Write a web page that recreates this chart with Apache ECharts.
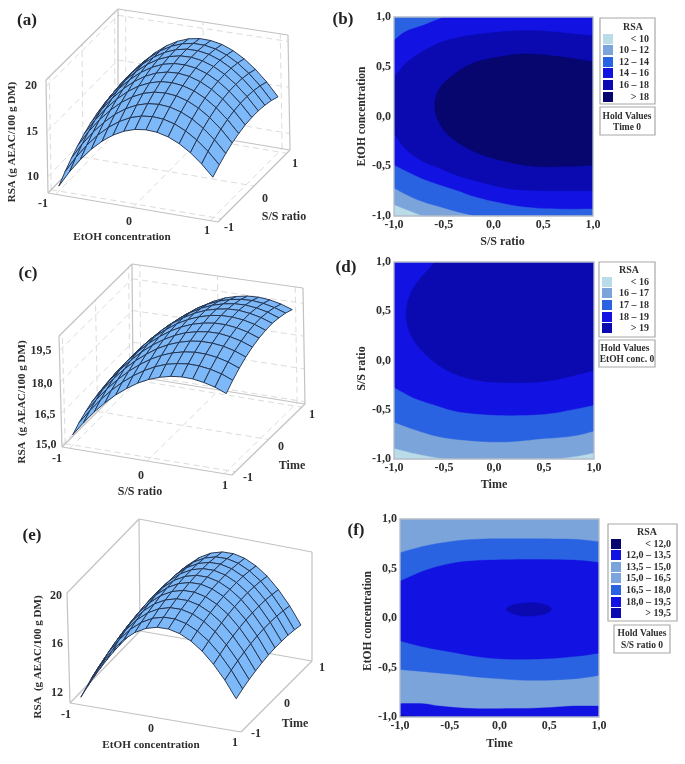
<!DOCTYPE html>
<html><head><meta charset="utf-8">
<style>html,body{margin:0;padding:0;background:#fff}#c{width:685px;height:764px}</style>
<script src="https://cdn.jsdelivr.net/npm/echarts@6/dist/echarts.min.js"></script>
</head><body><div id="c"></div>
<script>
// ---------- data: surface grids ----------
const surfX = [-1,-0.857,-0.714,-0.571,-0.429,-0.286,-0.143,0,0.143,0.286,0.429,0.571,0.714,0.857,1];
const surfY = [-1,-0.8,-0.6,-0.4,-0.2,0,0.2,0.4,0.6,0.8,1];
// (a) RSA by EtOH concentration (columns) and S/S ratio (rows)
const surfaceA = [
[8.75,10.55,12.10,13.42,14.50,15.36,15.98,16.37,16.52,16.44,16.13,15.58,14.80,13.78,12.54],
[9.62,11.40,12.94,14.24,15.30,16.14,16.75,17.12,17.25,17.16,16.83,16.26,15.46,14.43,13.17],
[10.39,12.15,13.67,14.95,16.01,16.83,17.42,17.77,17.88,17.77,17.42,16.85,16.03,14.98,13.70],
[11.06,12.80,14.31,15.57,16.61,17.41,17.99,18.32,18.41,18.29,17.92,17.33,16.49,15.43,14.13],
[11.62,13.35,14.83,16.08,17.10,17.89,18.44,18.76,18.84,18.69,18.31,17.70,16.85,15.76,14.45],
[12.08,13.79,15.26,16.49,17.49,18.26,18.80,19.10,19.16,19.00,18.60,17.97,17.10,16.00,14.67],
[12.43,14.12,15.58,16.79,17.77,18.52,19.05,19.33,19.37,19.20,18.78,18.13,17.24,16.13,14.78],
[12.68,14.36,15.79,16.99,17.95,18.69,19.19,19.46,19.49,19.29,18.86,18.19,17.29,16.15,14.79],
[12.83,14.49,15.91,17.09,18.03,18.75,19.24,19.49,19.50,19.29,18.84,18.15,17.23,16.08,14.70],
[12.87,14.51,15.91,17.07,18.01,18.71,19.18,19.41,19.40,19.17,18.70,18.01,17.07,15.90,14.50],
[12.81,14.43,15.82,16.96,17.88,18.56,19.02,19.23,19.20,18.96,18.47,17.76,16.80,15.62,14.20]];
// (c) RSA by S/S ratio (columns) and Time (rows)
const surfaceC = [
[15.39,16.04,16.64,17.16,17.61,17.99,18.32,18.57,18.75,18.87,18.92,18.90,18.81,18.67,18.45],
[15.66,16.31,16.91,17.44,17.89,18.28,18.60,18.86,19.05,19.16,19.22,19.20,19.12,18.98,18.76],
[15.86,16.52,17.12,17.65,18.11,18.50,18.83,19.09,19.28,19.40,19.46,19.45,19.37,19.23,19.02],
[16.03,16.69,17.29,17.83,18.29,18.68,19.02,19.28,19.47,19.60,19.66,19.65,19.58,19.44,19.23],
[16.13,16.80,17.41,17.94,18.41,18.81,19.14,19.41,19.61,19.73,19.80,19.80,19.72,19.59,19.39],
[16.20,16.87,17.48,18.02,18.49,18.89,19.23,19.50,19.70,19.83,19.90,19.90,19.83,19.70,19.50],
[16.22,16.89,17.50,18.05,18.52,18.92,19.27,19.54,19.74,19.88,19.95,19.95,19.89,19.76,19.56],
[16.18,16.86,17.48,18.02,18.50,18.91,19.25,19.53,19.74,19.87,19.95,19.96,19.89,19.77,19.58],
[16.09,16.77,17.39,17.94,18.42,18.83,19.18,19.46,19.67,19.81,19.89,19.90,19.84,19.72,19.53],
[15.95,16.64,17.26,17.81,18.30,18.71,19.07,19.35,19.56,19.71,19.79,19.81,19.75,19.63,19.45],
[15.77,16.46,17.08,17.64,18.13,18.55,18.90,19.19,19.41,19.55,19.64,19.66,19.61,19.49,19.31]];
// (e) RSA by EtOH concentration (columns) and Time (rows)
const surfaceE = [
[11.52,13.24,14.72,15.95,16.94,17.70,18.21,18.48,18.51,18.30,17.85,17.17,16.23,15.06,13.64],
[11.80,13.52,15.00,16.23,17.22,17.98,18.49,18.76,18.79,18.58,18.13,17.45,16.51,15.34,13.92],
[12.04,13.76,15.24,16.47,17.46,18.22,18.73,19.00,19.03,18.82,18.37,17.69,16.75,15.58,14.16],
[12.22,13.94,15.42,16.65,17.64,18.40,18.91,19.18,19.21,19.00,18.55,17.87,16.93,15.76,14.34],
[12.36,14.08,15.56,16.79,17.78,18.54,19.05,19.32,19.35,19.14,18.69,18.01,17.07,15.90,14.48],
[12.46,14.18,15.66,16.89,17.88,18.64,19.15,19.42,19.45,19.24,18.79,18.11,17.17,16.00,14.58],
[12.50,14.22,15.70,16.93,17.92,18.68,19.19,19.46,19.49,19.28,18.83,18.15,17.21,16.04,14.62],
[12.50,14.22,15.70,16.93,17.92,18.68,19.19,19.46,19.49,19.28,18.83,18.15,17.21,16.04,14.62],
[12.46,14.18,15.66,16.89,17.88,18.64,19.15,19.42,19.45,19.24,18.79,18.11,17.17,16.00,14.58],
[12.36,14.08,15.56,16.79,17.78,18.54,19.05,19.32,19.35,19.14,18.69,18.01,17.07,15.90,14.48],
[12.22,13.94,15.42,16.65,17.64,18.40,18.91,19.18,19.21,19.00,18.55,17.87,16.93,15.76,14.34]];
const ticksXY = [-1,0,1];
const ticksZA = [10,15,20];
const ticksZC = [15,16.5,18,19.5];
const ticksZE = [12,16,20];

// ---------- data: contour boundaries in axis units ----------
const fullSquare = [[-1,-1],[1,-1],[1,1],[-1,1]];
// (b)
const b1214Top = [[-1,1],[-1,.77],[-.88,.86],[-.71,.92],[-.51,1]];
const b1214Bottom = [[-1,-.49],[-.88,-.55],[-.71,-.63],[-.54,-.69],[-.37,-.745],[-.2,-.805],[0,-.855],[.3,-.91],[.64,-.93],[1,-.93],[1,-1],[-1,-1]];
const b1012 = [[-1,-.72],[-.875,-.79],[-.71,-.86],[-.54,-.91],[-.37,-.96],[-.2,-1],[-1,-1]];
const bBelow10 = [[-1,-.89],[-.72,-1],[-1,-1]];
const b1618Edge = [[-1,.39],[-.875,.54],[-.71,.655],[-.54,.74],[-.37,.79],[-.2,.82],[.13,.855],[.47,.86],[1,.81],[1,-.745],[.47,-.745],[.13,-.72],[-.2,-.64],[-.37,-.59],[-.54,-.52],[-.71,-.45],[-.875,-.335],[-1,-.17]];
const bAbove18 = [[1,.55],[.67,.6],[.33,.63],[.07,.6],[-.2,.54],[-.4,.42],[-.54,.285],[-.59,.135],[-.56,-.03],[-.44,-.2],[-.2,-.35],[.07,-.44],[.4,-.5],[.74,-.5],[1,-.49]];
// (d)
const dAbove19 = [[-.59,1],[-.81,.73],[-.88,.46],[-.81,.22],[-.64,.02],[-.41,-.13],[-.11,-.21],[.26,-.225],[.59,-.2],[1,-.1],[1,1]];
const d1718 = [[-1,-.275],[-.81,-.38],[-.61,-.45],[-.375,-.52],[-.11,-.55],[.19,-.56],[.53,-.545],[.79,-.5],[1,-.457],[1,-1],[-1,-1]];
const d1617 = [[-1,-.63],[-.81,-.70],[-.54,-.78],[-.21,-.82],[.125,-.83],[.46,-.80],[.79,-.77],[1,-.72],[1,-1],[-1,-1]];
const dBelow16Left = [[-1,-.895],[-.78,-.95],[-.51,-1],[-1,-1]];
const dBelow16Right = [[.63,-1],[.83,-.975],[1,-.94],[1,-1]];
// (f)
const f165180 = [[-1,.66],[-.735,.73],[-.43,.78],[-.1,.80],[.335,.80],[.74,.795],[1,.77],[1,-.58],[.74,-.615],[.335,-.63],[-.1,-.607],[-.5,-.566],[-1,-.52]];
const f180195 = [[-1,.37],[-.735,.485],[-.43,.56],[-.1,.585],[.335,.59],[.74,.585],[1,.56],[1,-.355],[.74,-.39],[.335,-.415],[-.1,-.405],[-.5,-.34],[-.77,-.29],[-1,-.23]];
const fAbove195 = [[.07,.09],[.14,.133],[.27,.153],[.40,.15],[.49,.12],[.52,.09],[.48,.05],[.37,.025],[.24,.02],[.12,.05]];
const f120135 = [[-1,-.865],[-.77,-.865],[-.6,-.89],[-.27,-.915],[.07,-.915],[.40,-.91],[.74,-.89],[1,-.89],[1,-1],[-1,-1]];
const fBelow12 = [[-1,-.985],[-.785,-1],[-1,-1]];

// ---------- legend text ----------
const legendB = ['< 10','10 – 12','12 – 14','14 – 16','16 – 18','> 18'];
const legendD = ['< 16','16 – 17','17 – 18','18 – 19','> 19'];
const legendF = ['< 12,0','12,0 – 13,5','13,5 – 15,0','15,0 – 16,5','16,5 – 18,0','18,0 – 19,5','> 19,5'];

// ---------- styles and layout ----------
const C = {pale:'#b9dce8', light:'#7ba5da', mid:'#2a63e2', bright:'#1212e2', deep:'#0a0ab0', navy:'#06066e'};
const legendColB = [C.pale,C.light,C.mid,C.bright,C.deep,C.navy];
const legendColD = [C.pale,C.light,C.mid,C.bright,C.deep];
const legendColF = [C.navy,C.bright,C.light,C.light,C.mid,C.bright,C.deep];
const SERIF = '"Liberation Serif","Times New Roman",serif';
const INK = '#2e2e2e';
const boxA = {R:1.1,zmin:8.2,zmax:20.7,fl:[48,193],fr:[218,222],br:[290,150],bl:[118,121],tfl:[46,80],tfr:[216,106],tbr:[288,35],tbl:[118,9]};
const boxC = {R:1.1,zmin:14.9,zmax:20.2,fl:[62,447],fr:[232,475],br:[305,404],bl:[133,376],tfl:[59,336],tfr:[230,360],tbr:[303,288],tbl:[132,264]};
const boxE = {R:1.1,zmin:11.2,zmax:20.25,fl:[70,703],fr:[241,732],br:[312,661],bl:[140,631],tfl:[67,593],tfr:[240,626],tbr:[312,552],tbl:[139,519]};

function project(b,x,y,z){
  const u=(x+b.R)/(2*b.R), v=(y+b.R)/(2*b.R), w=(z-b.zmin)/(b.zmax-b.zmin);
  const out=[0,0];
  for(let k=0;k<2;k++){
    const low=(1-v)*((1-u)*b.fl[k]+u*b.fr[k])+v*((1-u)*b.bl[k]+u*b.br[k]);
    const top=(1-v)*((1-u)*b.tfl[k]+u*b.tfr[k])+v*((1-u)*b.tbl[k]+u*b.tbr[k]);
    out[k]=(1-w)*low+w*top;
  }
  return out;
}
function boxSegments(b,ticksZ,dashed){
  const R=b.R, a=b.zmin, t=b.zmax, solid=[
    [[-R,-R,a],[R,-R,a]],[[R,-R,a],[R,R,a]],[[R,R,a],[-R,R,a]],[[-R,R,a],[-R,-R,a]],
    [[-R,-R,a],[-R,-R,t]],[[-R,-R,t],[-R,R,t]],[[-R,R,t],[R,R,t]],[[R,R,t],[R,R,a]],[[-R,R,a],[-R,R,t]]
  ];
  const dash=[];
  if(dashed){
    ticksXY.forEach(v=>{
      dash.push([[v,-R,a],[v,R,a]],[[-R,v,a],[R,v,a]],[[v,R,a],[v,R,t]],[[-R,v,a],[-R,v,t]]);
    });
    ticksZ.forEach(z=>{ dash.push([[-R,R,z],[R,R,z]],[[-R,-R,z],[-R,R,z]]); });
  }
  return {solid,dash};
}
function segSeries(name,b,segs,style){
  return {type:'custom',name,xAxisIndex:3,yAxisIndex:3,silent:true,animation:false,z:2,progressive:0,
    data:segs.map((s,i)=>[i,0]),
    renderItem(p,api){
      const s=segs[p.dataIndex];
      const a=api.coord(project(b,s[0][0],s[0][1],s[0][2])), c=api.coord(project(b,s[1][0],s[1][1],s[1][2]));
      return {type:'line',shape:{x1:a[0],y1:a[1],x2:c[0],y2:c[1]},style};
    }};
}
function surfaceSeries(name,b,mat){
  const cells=[];
  for(let j=surfY.length-2;j>=0;j--) for(let i=0;i<surfX.length-1;i++) cells.push([i,j]);
  return {type:'custom',name,xAxisIndex:3,yAxisIndex:3,silent:true,animation:false,z:3,progressive:0,
    data:cells,
    renderItem(p,api){
      const c=cells[p.dataIndex], i=c[0], j=c[1];
      const pts=[[i,j],[i+1,j],[i+1,j+1],[i,j+1]].map(q=>api.coord(project(b,surfX[q[0]],surfY[q[1]],mat[q[1]][q[0]])));
      return {type:'polygon',shape:{points:pts},style:{fill:'#7db9f9',stroke:'#22314e',lineWidth:0.95,lineJoin:'round'}};
    }};
}
// Rounds a boundary between its read points; points on the plot frame stay fixed.
function onFrame(q){ return Math.abs(q[0])===1||Math.abs(q[1])===1; }
function spline(p0,p1,p2,p3,out){
  for(let s=1;s<=6;s++){
    const t=s/6,t2=t*t,t3=t2*t;
    out.push([0,1].map(k=>.5*(2*p1[k]+(p2[k]-p0[k])*t+(2*p0[k]-5*p1[k]+4*p2[k]-p3[k])*t2+(3*p1[k]-p0[k]-3*p2[k]+p3[k])*t3)));
  }
}
function rounded(poly){
  const n=poly.length,out=[poly[0]];
  const closedFree=!poly.some(onFrame);
  for(let i=0;i<n;i++){
    const a=poly[i],b=poly[(i+1)%n];
    if(onFrame(a)&&onFrame(b)){ if(i<n-1) out.push(b); continue; }
    const prev=poly[(i-1+n)%n],next=poly[(i+2)%n];
    const p0=(!closedFree&&onFrame(a))?a:prev, p3=(!closedFree&&onFrame(b))?b:next;
    spline(p0,a,b,p3,out);
  }
  return out;
}
function bandSeries(name,gridIdx,color,polys,z){
  const shapes=polys.map(rounded);
  return {type:'custom',name,xAxisIndex:gridIdx,yAxisIndex:gridIdx,silent:true,animation:false,z,clip:true,
    data:polys.map(()=>[0,0]),
    renderItem(p,api){
      return {type:'polygon',shape:{points:shapes[p.dataIndex].map(q=>api.coord(q))},style:{fill:color,stroke:color,lineWidth:0.4}};
    }};
}
function frameSeries(gridIdx){
  return {type:'custom',name:'frame',xAxisIndex:gridIdx,yAxisIndex:gridIdx,silent:true,animation:false,z:20,
    data:[[0,0]],
    renderItem(p,api){
      return {type:'polygon',shape:{points:fullSquare.map(q=>api.coord(q))},style:{fill:'none',stroke:'#b4bcc8',lineWidth:1.3}};
    }};
}
function contourAxis(gridIdx,nameText,nameGap,pad,size){
  return {type:'value',gridIndex:gridIdx,min:-1,max:1,interval:.5,name:nameText,nameLocation:'middle',nameGap,
    nameTextStyle:{fontFamily:SERIF,fontWeight:'bold',fontSize:size||12,color:INK,padding:pad||0},
    axisLine:{show:false},axisTick:{show:false},splitLine:{show:false},
    axisLabel:{show:true,fontFamily:SERIF,fontWeight:'bold',fontSize:12,color:INK,margin:3,showMinLabel:true,showMaxLabel:true,
      hideOverlap:false,formatter:v=>v.toFixed(1).replace('.',',')}};
}
function txt(text,x,y,o){
  o=o||{};
  return {type:'text',x,y,rotation:o.rot||0,z:50,silent:true,
    style:{text,fill:o.fill||INK,font:'bold '+(o.size||12)+'px '+SERIF,textAlign:o.align||'center',textVerticalAlign:'middle'}};
}
function boxEl(x1,y1,x2,y2){
  return {type:'rect',z:40,silent:true,shape:{x:x1,y:y1,width:x2-x1,height:y2-y1},style:{fill:'#fff',stroke:'#a8a8a8',lineWidth:1.2}};
}
function legendBlock(box,title,tx,ty,labels,colors,swX,rows,textR,hold,holdLines){
  const g=[boxEl(box[0],box[1],box[2],box[3]),txt(title,tx,ty,{size:10})];
  labels.forEach((l,i)=>{
    g.push({type:'rect',z:45,silent:true,shape:{x:swX,y:rows[i]-5,width:10,height:10},style:{fill:colors[i]}});
    g.push(txt(l,textR,rows[i],{size:10,align:'right'}));
  });
  g.push(boxEl(hold[0],hold[1],hold[2],hold[3]));
  holdLines.forEach(h=>g.push(txt(h[0],h[1],h[2],{size:9.5})));
  return g;
}
function tickTexts(vals,pos,fmt){ return vals.map((v,i)=>txt(fmt?fmt(v):String(v),pos[i][0],pos[i][1])); }

const segA=boxSegments(boxA,ticksZA,true), segC=boxSegments(boxC,ticksZC,true), segE=boxSegments(boxE,ticksZE,false);
const solidStyle={stroke:'#c2c2c2',lineWidth:1.2,fill:null};
const dashStyle={stroke:'#dcdcdc',lineWidth:1,lineDash:[6,4],fill:null};
const LAB={size:11.2};

const graphics=[].concat(
  txt('(a)',27,21,{size:17,fill:'#222'}),txt('(b)',343,20,{size:17,fill:'#222'}),
  txt('(c)',28,274,{size:17,fill:'#222'}),txt('(d)',346,268,{size:17,fill:'#222'}),
  txt('(e)',32,536,{size:17,fill:'#222'}),txt('(f)',356,531,{size:17,fill:'#222'}),
  // (a)
  tickTexts(ticksXY,[[43,204],[129,222],[207,231]]),tickTexts(ticksXY,[[229,228],[265,199],[295,164]]),
  tickTexts(ticksZA,[[33,177],[32,132],[31,86]]),
  txt('EtOH concentration',122,237,LAB),txt('S/S ratio',284,217),
  txt('RSA (g AEAC/100 g DM)',12,142,{rot:Math.PI/2,size:11}),
  // (c)
  tickTexts(ticksXY,[[57,459],[141,476],[225,486]]),tickTexts(ticksXY,[[248,478],[281,447],[312,415]]),
  tickTexts(ticksZC,[[46,445],[45,415],[42,384],[41,351]],v=>v.toFixed(1).replace('.',',')),
  txt('S/S ratio',140,492),txt('Time',292,466),
  txt('RSA  (g AEAC/100 g DM)',22,402,{rot:Math.PI/2,size:11}),
  // (e)
  tickTexts(ticksXY,[[66,715],[151,729],[235,743]]),tickTexts(ticksXY,[[256,734],[287,704],[322,668]]),
  tickTexts(ticksZE,[[57,693],[57,644],[56,596]]),
  txt('EtOH concentration',151,745,LAB),txt('Time',295,724),
  txt('RSA  (g AEAC/100 g DM)',38,657,{rot:Math.PI/2,size:11}),
  // legends
  legendBlock([600,18,655,104],'RSA',633,27,legendB,legendColB,603,[39,50,62,73,85,97],649,[600,107,655,135],[['Hold Values',627,117],['Time 0',627,128]]),
  legendBlock([599,262,655,337],'RSA',629,270,legendD,legendColD,602,[282,293,305,317,328],649,[599,340,655,367],[['Hold Values',625,349],['EtOH conc. 0',627,360]]),
  legendBlock([608,524,677,621],'RSA',647,532,legendF,legendColF,611,[544,555,567,578,590,602,613],671,[614,625,670,653],[['Hold Values',642,634],['S/S ratio 0',642,646]])
);

const option={
  backgroundColor:'#fff',animation:false,
  grid:[
    {left:394,top:17,width:199,height:199},
    {left:394,top:262,width:200,height:197},
    {left:400,top:519,width:199,height:198},
    {left:0,top:0,width:685,height:764}
  ],
  xAxis:[
    contourAxis(0,'S/S ratio',20,[0,0,0,18]),contourAxis(1,'Time',20),contourAxis(2,'Time',21),
    {type:'value',gridIndex:3,min:0,max:685,show:false}
  ],
  yAxis:[
    contourAxis(0,'EtOH concentration',20,0,11.5),contourAxis(1,'S/S ratio',19,[0,16,0,0]),contourAxis(2,'EtOH concentration',19,[0,6,0,0],11.5),
    {type:'value',gridIndex:3,min:0,max:764,inverse:true,show:false}
  ],
  graphic:{elements:graphics},
  series:[
    bandSeries('14 – 16',0,C.bright,[fullSquare],3),
    bandSeries('12 – 14',0,C.mid,[b1214Top,b1214Bottom],4),
    bandSeries('10 – 12',0,C.light,[b1012],5),
    bandSeries('< 10',0,C.pale,[bBelow10],6),
    bandSeries('16 – 18',0,C.deep,[b1618Edge],5),
    bandSeries('> 18',0,C.navy,[bAbove18],6),
    frameSeries(0),
    bandSeries('18 – 19',1,C.bright,[fullSquare],3),
    bandSeries('> 19',1,C.deep,[dAbove19],4),
    bandSeries('17 – 18',1,C.mid,[d1718],4),
    bandSeries('16 – 17',1,C.light,[d1617],5),
    bandSeries('< 16',1,C.pale,[dBelow16Left,dBelow16Right],6),
    frameSeries(1),
    bandSeries('15,0 – 16,5',2,C.light,[fullSquare],3),
    bandSeries('16,5 – 18,0',2,C.mid,[f165180],4),
    bandSeries('18,0 – 19,5',2,C.bright,[f180195],5),
    bandSeries('> 19,5',2,C.deep,[fAbove195],6),
    bandSeries('12,0 – 13,5',2,C.bright,[f120135],4),
    bandSeries('< 12,0',2,C.navy,[fBelow12],5),
    frameSeries(2),
    segSeries('box a dashed',boxA,segA.dash,dashStyle),segSeries('box a',boxA,segA.solid,solidStyle),
    surfaceSeries('RSA surface a',boxA,surfaceA),
    segSeries('box c dashed',boxC,segC.dash,dashStyle),segSeries('box c',boxC,segC.solid,solidStyle),
    surfaceSeries('RSA surface c',boxC,surfaceC),
    segSeries('box e',boxE,segE.solid,solidStyle),
    surfaceSeries('RSA surface e',boxE,surfaceE)
  ]
};
const chart=echarts.init(document.getElementById('c'),null,{renderer:'canvas'});
chart.setOption(option);
</script></body></html>
